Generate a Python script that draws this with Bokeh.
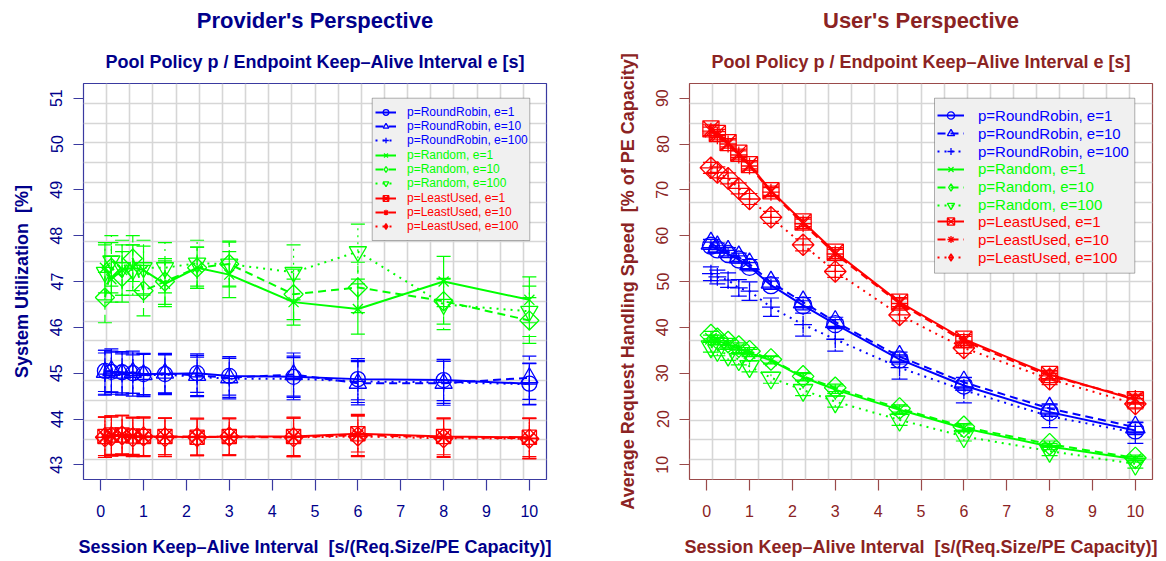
from bokeh.plotting import figure
from bokeh.models import (ColumnDataSource, Whisker, TeeHead, Legend, LegendItem, Title,
                          BoxAnnotation, FixedTicker, Range1d)
from bokeh.layouts import row
from bokeh.embed import file_html
from bokeh.resources import INLINE

# ---------------- data ----------------
keepalive = [0.1, 0.25, 0.5, 0.75, 1.0, 1.5, 2.25, 3.0, 4.5, 6.0, 8.0, 10.0]
x_ticks = [0, 1, 2, 3, 4, 5, 6, 7, 8, 9, 10]
util_ticks = [43, 44, 45, 46, 47, 48, 49, 50, 51]
speed_ticks = [10, 20, 30, 40, 50, 60, 70, 80, 90]

series_labels = ["p=RoundRobin, e=1", "p=RoundRobin, e=10", "p=RoundRobin, e=100",
                 "p=Random, e=1", "p=Random, e=10", "p=Random, e=100",
                 "p=LeastUsed, e=1", "p=LeastUsed, e=10", "p=LeastUsed, e=100"]

# System utilization [%]
util_rr_e1 = [45.05, 45.03, 45.02, 45.00, 44.98, 44.98, 45.00, 44.94, 44.92, 44.87, 44.85, 44.77]
util_rr_e10 = [45.02, 45.06, 45.00, 45.02, 44.97, 45.00, 44.95, 44.90, 44.97, 44.78, 44.78, 44.90]
util_rr_e100 = [44.98, 45.00, 44.97, 44.95, 44.95, 44.97, 44.92, 44.88, 44.88, 44.82, 44.80, 44.76]
util_rd_e1 = [47.30, 47.05, 47.25, 47.30, 47.25, 46.95, 47.30, 47.15, 46.55, 46.40, 47.00, 46.60]
util_rd_e10 = [46.65, 47.30, 47.10, 47.50, 46.80, 47.00, 47.30, 47.38, 46.72, 46.87, 46.57, 46.15]
util_rd_e100 = [47.20, 47.45, 47.30, 47.25, 47.30, 47.30, 47.40, 47.38, 47.20, 47.65, 46.50, 46.35]
util_lu_e1 = [43.62, 43.65, 43.65, 43.63, 43.62, 43.62, 43.60, 43.62, 43.62, 43.68, 43.62, 43.60]
util_lu_e10 = [43.60, 43.63, 43.66, 43.62, 43.60, 43.62, 43.62, 43.60, 43.60, 43.65, 43.60, 43.58]
util_lu_e100 = [43.60, 43.62, 43.64, 43.60, 43.62, 43.60, 43.60, 43.62, 43.60, 43.62, 43.58, 43.57]

util_err_rr_e1 = [0.45, 0.45, 0.45, 0.44, 0.45, 0.42, 0.42, 0.42, 0.45, 0.45, 0.45, 0.45]
util_err_rr_e10 = [0.48, 0.47, 0.46, 0.46, 0.45, 0.43, 0.44, 0.43, 0.47, 0.47, 0.48, 0.47]
util_err_rr_e100 = [0.46, 0.46, 0.45, 0.45, 0.46, 0.44, 0.43, 0.44, 0.46, 0.46, 0.46, 0.45]
util_err_rd_e1 = [0.55, 0.50, 0.55, 0.50, 0.52, 0.50, 0.45, 0.50, 0.50, 0.55, 0.55, 0.50]
util_err_rd_e10 = [0.55, 0.55, 0.55, 0.50, 0.55, 0.50, 0.45, 0.48, 0.55, 0.55, 0.50, 0.50]
util_err_rd_e100 = [0.60, 0.55, 0.60, 0.55, 0.60, 0.55, 0.50, 0.50, 0.60, 0.60, 0.55, 0.55]
util_err_lu_e1 = [0.42, 0.42, 0.42, 0.40, 0.42, 0.40, 0.40, 0.40, 0.42, 0.40, 0.40, 0.42]
util_err_lu_e10 = [0.44, 0.44, 0.42, 0.42, 0.42, 0.40, 0.40, 0.40, 0.42, 0.45, 0.42, 0.44]
util_err_lu_e100 = [0.44, 0.42, 0.44, 0.42, 0.42, 0.42, 0.40, 0.40, 0.42, 0.44, 0.42, 0.44]

# Average request handling speed [% of PE capacity]
speed_rr_e1 = [57.8, 57.0, 56.0, 54.8, 53.2, 49.2, 44.8, 40.7, 33.0, 27.3, 21.5, 17.5]
speed_rr_e10 = [58.3, 57.5, 56.5, 55.3, 53.8, 49.8, 45.5, 41.2, 33.6, 28.0, 22.3, 18.2]
speed_rr_e100 = [51.7, 51.0, 50.3, 48.6, 47.9, 44.4, 40.6, 37.4, 31.2, 26.3, 20.6, 17.0]
speed_rd_e1 = [37.5, 37.0, 36.3, 35.3, 34.4, 32.8, 29.1, 26.4, 22.0, 18.0, 14.0, 11.2]
speed_rd_e10 = [38.3, 37.5, 36.8, 35.8, 34.8, 33.0, 29.3, 26.8, 22.3, 18.3, 14.5, 11.5]
speed_rd_e100 = [35.8, 35.0, 34.0, 33.0, 31.5, 29.0, 26.3, 23.8, 19.8, 16.2, 13.0, 10.2]
speed_lu_e1 = [83.3, 82.3, 80.3, 78.0, 75.5, 69.8, 63.0, 56.4, 45.5, 37.4, 29.7, 24.2]
speed_lu_e10 = [82.8, 81.8, 80.0, 77.6, 75.2, 69.5, 62.6, 56.0, 45.2, 37.0, 29.4, 24.5]
speed_lu_e100 = [74.8, 73.8, 72.5, 70.3, 68.0, 64.0, 58.0, 52.2, 42.7, 35.5, 28.7, 23.3]

speed_err_rr_e1 = [0.8, 0.8, 0.8, 0.8, 0.9, 0.9, 1.0, 1.0, 1.0, 1.0, 0.9, 0.9]
speed_err_rr_e10 = [0.9, 0.9, 0.9, 0.9, 1.0, 1.0, 1.0, 1.0, 1.0, 1.0, 1.0, 1.0]
speed_err_rr_e100 = [1.5, 1.5, 1.6, 1.8, 2.0, 2.0, 2.5, 2.6, 2.5, 2.8, 2.5, 2.3]
speed_err_rd_e1 = [0.8, 0.8, 0.8, 0.8, 0.8, 0.8, 0.8, 0.8, 0.8, 0.7, 0.7, 0.6]
speed_err_rd_e10 = [0.8, 0.8, 0.8, 0.8, 0.8, 0.8, 0.8, 0.8, 0.8, 0.7, 0.7, 0.6]
speed_err_rd_e100 = [1.2, 1.2, 1.2, 1.2, 1.2, 1.2, 1.2, 1.2, 1.2, 1.0, 1.0, 0.9]
speed_err_lu_e1 = [0.9, 0.9, 0.9, 0.9, 0.9, 1.0, 1.0, 1.0, 1.0, 1.0, 0.9, 0.9]
speed_err_lu_e10 = [0.9, 0.9, 0.9, 0.9, 0.9, 1.0, 1.0, 1.0, 1.0, 1.0, 0.9, 0.9]
speed_err_lu_e100 = [1.2, 1.2, 1.2, 1.2, 1.2, 1.3, 1.3, 1.3, 1.3, 1.2, 1.2, 1.1]

util_series = [util_rr_e1, util_rr_e10, util_rr_e100, util_rd_e1, util_rd_e10, util_rd_e100,
               util_lu_e1, util_lu_e10, util_lu_e100]
util_errors = [util_err_rr_e1, util_err_rr_e10, util_err_rr_e100, util_err_rd_e1, util_err_rd_e10,
               util_err_rd_e100, util_err_lu_e1, util_err_lu_e10, util_err_lu_e100]
speed_series = [speed_rr_e1, speed_rr_e10, speed_rr_e100, speed_rd_e1, speed_rd_e10, speed_rd_e100,
                speed_lu_e1, speed_lu_e10, speed_lu_e100]
speed_errors = [speed_err_rr_e1, speed_err_rr_e10, speed_err_rr_e100, speed_err_rd_e1, speed_err_rd_e10,
                speed_err_rd_e100, speed_err_lu_e1, speed_err_lu_e10, speed_err_lu_e100]

# ---------------- styles ----------------
FONT = "Liberation Sans"
COLORS = ["#0000FF"] * 3 + ["#00FF00"] * 3 + ["#FF0000"] * 3
DASHES = ["solid", "8 5", "2 5"] * 3
# (plot marker, angle, size factor, legend marker)
MARKERS = [("circle", 0.0, 1.0, "circle"), ("triangle", 0.0, 1.15, "triangle"), ("cross", 0.0, 1.05, "cross"),
           ("x", 0.0, 0.95, "x"), ("square", 0.785398, 0.9, "diamond"), ("inverted_triangle", 0.0, 1.15, "inverted_triangle"),
           ("square_x", 0.0, 0.95, "square_x"), ("asterisk", 0.0, 1.0, "asterisk"), ("square_x", 0.785398, 0.9, "diamond_cross")]

TOP = 83
FH = 396
BOTTOM = 81
FW = 463


def make_panel(border_left, border_right, y_range, y_ticks, series, errors,
               text_color, box_color, title, subtitle, xlabel, ylabel,
               msize, head, leg_font, leg_item_h, leg_glyph_w, leg_standoff,
               box_lrtb, group_x, group_bottoms):
    width = border_left + FW + border_right
    p = figure(width=width, height=TOP + FH + BOTTOM, x_range=Range1d(-0.4, 10.4),
               y_range=Range1d(*y_range), output_backend="svg", toolbar_location=None,
               title_location=None,
               min_border_left=border_left, min_border_right=border_right,
               min_border_top=TOP, min_border_bottom=BOTTOM)
    p.background_fill_color = "white"
    p.border_fill_color = "white"
    p.outline_line_color = box_color
    p.outline_line_width = 1.2

    # grid: 20 equal cells in each direction
    x0, x1 = -0.4, 10.4
    y0, y1 = y_range
    p.xgrid.ticker = FixedTicker(ticks=[x0 + k * (x1 - x0) / 20 for k in range(1, 20)])
    p.ygrid.ticker = FixedTicker(ticks=[y0 + k * (y1 - y0) / 20 for k in range(1, 20)])
    for g in (p.xgrid[0], p.ygrid[0]):
        g.grid_line_color = "#d6d6d6"
        g.grid_line_width = 1.6

    p.xaxis.ticker = FixedTicker(ticks=x_ticks)
    p.yaxis.ticker = FixedTicker(ticks=y_ticks)
    for ax in (p.xaxis[0], p.yaxis[0]):
        ax.axis_line_color = None
        ax.major_tick_line_color = box_color
        ax.major_tick_line_width = 1.2
        ax.major_tick_in = 0
        ax.minor_tick_line_color = None
        ax.major_label_text_font = FONT
        ax.major_label_text_font_size = "16px"
        ax.major_label_text_color = text_color
        ax.axis_label_text_font = FONT
        ax.axis_label_text_font_style = "bold"
        ax.axis_label_text_font_size = "18px"
        ax.axis_label_text_color = text_color
    p.xaxis.major_tick_out = 11
    p.xaxis.major_label_standoff = 14
    p.xaxis.axis_label_standoff = 17
    p.yaxis.major_tick_out = 10
    p.yaxis.major_label_orientation = "vertical"
    p.yaxis.major_label_standoff = 11
    p.yaxis.axis_label_standoff = 16
    p.xaxis.axis_label = xlabel
    p.yaxis.axis_label = ylabel

    legend_renderers = []
    for i, (ys, es) in enumerate(zip(series, errors)):
        c = COLORS[i]
        dash = DASHES[i]
        mk, ang, fac, leg_mk = MARKERS[i]
        src = ColumnDataSource(dict(x=keepalive, y=ys,
                                    lo=[a - b for a, b in zip(ys, es)],
                                    hi=[a + b for a, b in zip(ys, es)]))
        p.add_layout(Whisker(base="x", lower="lo", upper="hi", source=src,
                             line_color=c, line_width=1.2, line_dash=dash,
                             upper_head=TeeHead(size=head, line_color=c, line_width=1.2),
                             lower_head=TeeHead(size=head, line_color=c, line_width=1.2)))
        ln = p.line("x", "y", source=src, line_color=c, line_width=2, line_dash=dash)
        p.scatter("x", "y", source=src, marker=mk, angle=ang, size=msize * fac,
                  fill_color=None, line_color=c, line_width=1.3)
        lg = p.scatter("x", "y", source=src, marker=leg_mk, size=0,
                       fill_color=None, line_color=c, line_width=1.3)
        legend_renderers.append([ln, lg])

    # legend box
    l, r, t, b = box_lrtb
    p.add_layout(BoxAnnotation(left=l, right=r, top=t, bottom=b,
                               left_units="screen", right_units="screen",
                               top_units="screen", bottom_units="screen",
                               fill_color="#f0f0f0", fill_alpha=1.0,
                               line_color="black", line_width=1, level="annotation"))
    for gi in range(3):
        items = [LegendItem(label=series_labels[3 * gi + k], renderers=legend_renderers[3 * gi + k])
                 for k in range(3)]
        leg = Legend(items=items, location=(group_x, group_bottoms[gi]), padding=0, margin=0,
                     spacing=0, border_line_color=None, background_fill_alpha=0.0,
                     label_text_color=COLORS[3 * gi], label_text_font=FONT,
                     label_text_font_size=leg_font, glyph_width=leg_glyph_w,
                     glyph_height=leg_item_h, label_height=leg_item_h,
                     label_standoff=leg_standoff)
        p.add_layout(leg)

    # subtitle (closest to the frame) and main title
    p.add_layout(Title(text=subtitle, align="center", vertical_align="bottom", standoff=24,
                       text_font=FONT, text_font_style="bold", text_font_size="18px",
                       text_color=text_color), "above")
    p.add_layout(Title(text=title, align="center", vertical_align="top", standoff=6,
                       text_font=FONT, text_font_style="bold", text_font_size="22px",
                       text_color=text_color), "above")
    return p


xlab = "Session Keep–Alive Interval \u00a0[s/(Req.Size/PE Capacity)]"
sub = "Pool Policy p / Endpoint Keep–Alive Interval e [s]"

p1 = make_panel(83, 62, (42.68, 51.32), util_ticks, util_series, util_errors,
                "#00008B", "#3a3aa0", "Provider's Perspective", sub, xlab,
                "System Utilization \u00a0[%]",
                15, 14, "12px", 14, 21, 11,
                (288.7, 446.3, 381.3, 239.0), 292, [331.7, 288.7, 246.0])
p2 = make_panel(81, 6, (6.8, 93.2), speed_ticks, speed_series, speed_errors,
                "#8B2323", "#9a4a4a", "User's Perspective", sub, xlab,
                "Average Request Handling Speed \u00a0[% of PE Capacity]",
                17, 16, "15px", 18, 27, 14,
                (245.0, 445.3, 381.3, 206.3), 248, [319.0, 265.3, 213.0])

layout = row(p1, p2)
open("out.html", "w").write(file_html(layout, INLINE))
